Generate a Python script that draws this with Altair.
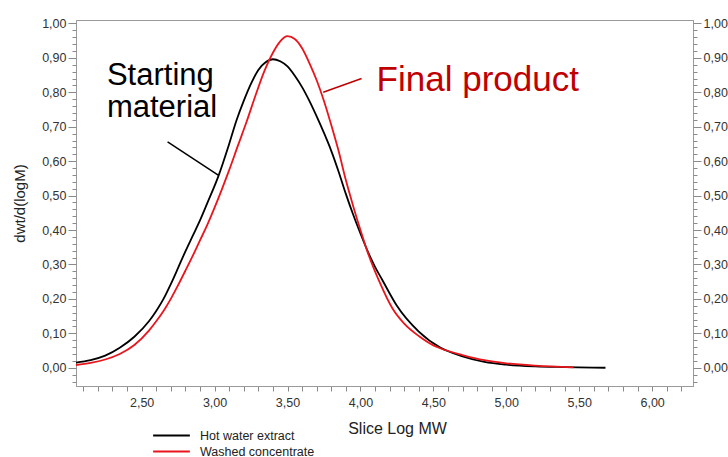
import altair as alt
import pandas as pd

# Molecular weight distributions (GPC): slice log MW vs dwt/d(logM)
hot_logmw = [2.05, 2.15, 2.25, 2.35, 2.45, 2.55, 2.60, 2.65, 2.70, 2.75, 2.80, 2.85, 2.90,
             2.95, 3.025, 3.10, 3.15, 3.20, 3.25, 3.30, 3.35, 3.40, 3.45, 3.50, 3.55,
             3.60, 3.65, 3.70, 3.75, 3.80, 3.85, 3.90, 3.95, 4.00, 4.05, 4.10, 4.15,
             4.25, 4.40, 4.55, 4.70, 4.85, 5.00, 5.20, 5.40, 5.68]
hot_dwt = [0.015, 0.022, 0.035, 0.058, 0.090, 0.135, 0.165, 0.200, 0.243, 0.290, 0.338, 0.383, 0.428,
           0.478, 0.555, 0.650, 0.718, 0.775, 0.825, 0.865, 0.887, 0.896, 0.890, 0.875, 0.848,
           0.815, 0.775, 0.730, 0.682, 0.630, 0.570, 0.505, 0.445, 0.390, 0.338, 0.293, 0.255,
           0.180, 0.105, 0.058, 0.033, 0.017, 0.009, 0.004, 0.002, 0.000]

washed_logmw = [2.05, 2.15, 2.25, 2.35, 2.45, 2.55, 2.60, 2.65, 2.70, 2.75, 2.80, 2.85, 2.90,
                2.95, 3.00, 3.05, 3.10, 3.16, 3.22, 3.28, 3.34, 3.40, 3.45, 3.50, 3.55,
                3.60, 3.65, 3.70, 3.75, 3.80, 3.85, 3.90, 3.95, 4.00, 4.05, 4.13, 4.22,
                4.30, 4.40, 4.50, 4.55, 4.70, 4.85, 5.00, 5.20, 5.46]
washed_dwt = [0.008, 0.014, 0.024, 0.040, 0.066, 0.108, 0.135, 0.165, 0.200, 0.240, 0.282, 0.325, 0.370,
              0.415, 0.465, 0.518, 0.574, 0.645, 0.715, 0.790, 0.860, 0.915, 0.948, 0.963, 0.955,
              0.928, 0.885, 0.835, 0.775, 0.705, 0.630, 0.545, 0.470, 0.400, 0.335, 0.250, 0.172,
              0.128, 0.092, 0.065, 0.056, 0.037, 0.022, 0.013, 0.006, 0.001]

series_names = ["Hot water extract", "Washed concentrate"]
series_colors = ["#000000", "#e8161c"]

# Callout labels and their leader lines
label_text = ["Starting", "material", "Final product"]
label_x = [2.262, 2.262, 4.111]
label_y = [0.821, 0.728, 0.804]
leader_x = [2.678, 4.008]
leader_y = [0.656, 0.840]
leader_x2 = [3.025, 3.745]
leader_y2 = [0.5595, 0.800]

x_domain = [2.05, 6.28]
y_domain = [-0.053, 1.01]
x_label_values = [2.5, 3.0, 3.5, 4.0, 4.5, 5.0, 5.5, 6.0]
x_minor_values = [round(2.1 + 0.1 * i, 2) for i in range(42)]
y_major_values = [round(0.1 * i, 2) for i in range(11)]
y_minor_values = [round(-0.04 + 0.02 * i, 2) for i in range(53)]

curves = pd.concat([
    pd.DataFrame({"logmw": hot_logmw, "dwt": hot_dwt, "sample": series_names[0]}),
    pd.DataFrame({"logmw": washed_logmw, "dwt": washed_dwt, "sample": series_names[1]}),
])
labels_df = pd.DataFrame({"x": label_x, "y": label_y, "text": label_text})
leaders_df = pd.DataFrame({"x": leader_x, "y": leader_y, "x2": leader_x2, "y2": leader_y2})

comma = "replace(format(datum.value, '.2f'), '.', ',')"
FONT = "Liberation Sans"
AX = dict(domainColor="#9a9a9a", tickColor="#8a8a8a", labelColor="#333333",
          labelFont=FONT, labelFontSize=12.5, grid=False, titleFont=FONT,
          titleColor="#222222", titleFontWeight="normal")

xs = alt.Scale(domain=x_domain, nice=False, zero=False)
ys = alt.Scale(domain=y_domain, nice=False, zero=False)

# curves: carry x minor ticks and the left major axis
lines = alt.Chart(curves).mark_line(strokeWidth=1.8, interpolate="monotone").encode(
    x=alt.X("logmw:Q", scale=xs,
            axis=alt.Axis(orient="bottom", values=x_minor_values, labels=False, tickSize=5,
                          title=None, **AX)),
    y=alt.Y("dwt:Q", scale=ys,
            axis=alt.Axis(orient="left", values=y_major_values, tickSize=8, labelPadding=2,
                          labelExpr=comma, title="dwt/d(logM)", titleFontSize=15,
                          titlePadding=14, **AX)),
    color=alt.Color("sample:N", scale=alt.Scale(domain=series_names, range=series_colors),
                    legend=alt.Legend(title=None, orient="none", legendX=88, legendY=408,
                                      symbolType="M-3,0L3,0", symbolStrokeWidth=2,
                                      symbolSize=150, labelFont=FONT, labelFontSize=12.5,
                                      labelColor="#222222", rowPadding=2, labelOffset=21)),
    order=alt.Order("logmw:Q"),
)

start_df = labels_df.iloc[:2]
final_df = labels_df.iloc[2:]

start_text = alt.Chart(start_df).mark_text(
    align="left", baseline="alphabetic", fontSize=31, font=FONT, color="#000000"
).encode(
    x=alt.X("x:Q", scale=xs,
            axis=alt.Axis(orient="bottom", values=x_label_values, ticks=False, labelPadding=10,
                          labelExpr=comma, title="Slice Log MW", titleFontSize=16,
                          titlePadding=12, titleX=321, titleAlign="center", **AX)),
    y=alt.Y("y:Q", scale=ys,
            axis=alt.Axis(orient="left", values=y_minor_values, tickSize=4, labels=False,
                          title=None, domain=False, **AX)),
    text="text:N",
)

final_text = alt.Chart(final_df).mark_text(
    align="left", baseline="alphabetic", fontSize=35, font=FONT, color="#c00000"
).encode(
    x=alt.X("x:Q", scale=xs, axis=None),
    y=alt.Y("y:Q", scale=ys,
            axis=alt.Axis(orient="right", values=y_major_values, tickSize=8, labelPadding=2,
                          labelExpr=comma, title=None, **AX)),
    text="text:N",
)

leader_black = alt.Chart(leaders_df.iloc[:1]).mark_rule(color="#000000", strokeWidth=1.5).encode(
    x=alt.X("x:Q", scale=xs, axis=None),
    y=alt.Y("y:Q", scale=ys,
            axis=alt.Axis(orient="right", values=y_minor_values, tickSize=4, labels=False,
                          title=None, domain=False, **AX)),
    x2="x2:Q",
    y2="y2:Q",
)

leader_red = alt.Chart(leaders_df.iloc[1:]).mark_rule(color="#c00000", strokeWidth=1.5).encode(
    x=alt.X("x:Q", scale=xs, axis=None),
    y=alt.Y("y:Q", scale=ys, axis=None),
    x2="x2:Q",
    y2="y2:Q",
)

chart = alt.layer(lines, start_text, final_text, leader_black, leader_red).resolve_axis(
    x="independent", y="independent"
).properties(
    width=617, height=366,
    autosize=alt.AutoSizeParams(type="none"),
    padding={"left": 76, "top": 20, "right": 35, "bottom": 71},
    background="white",
).configure_view(stroke="#9a9a9a", strokeWidth=1)

chart.save("out.html", embed_options={"renderer": "svg", "actions": False})
